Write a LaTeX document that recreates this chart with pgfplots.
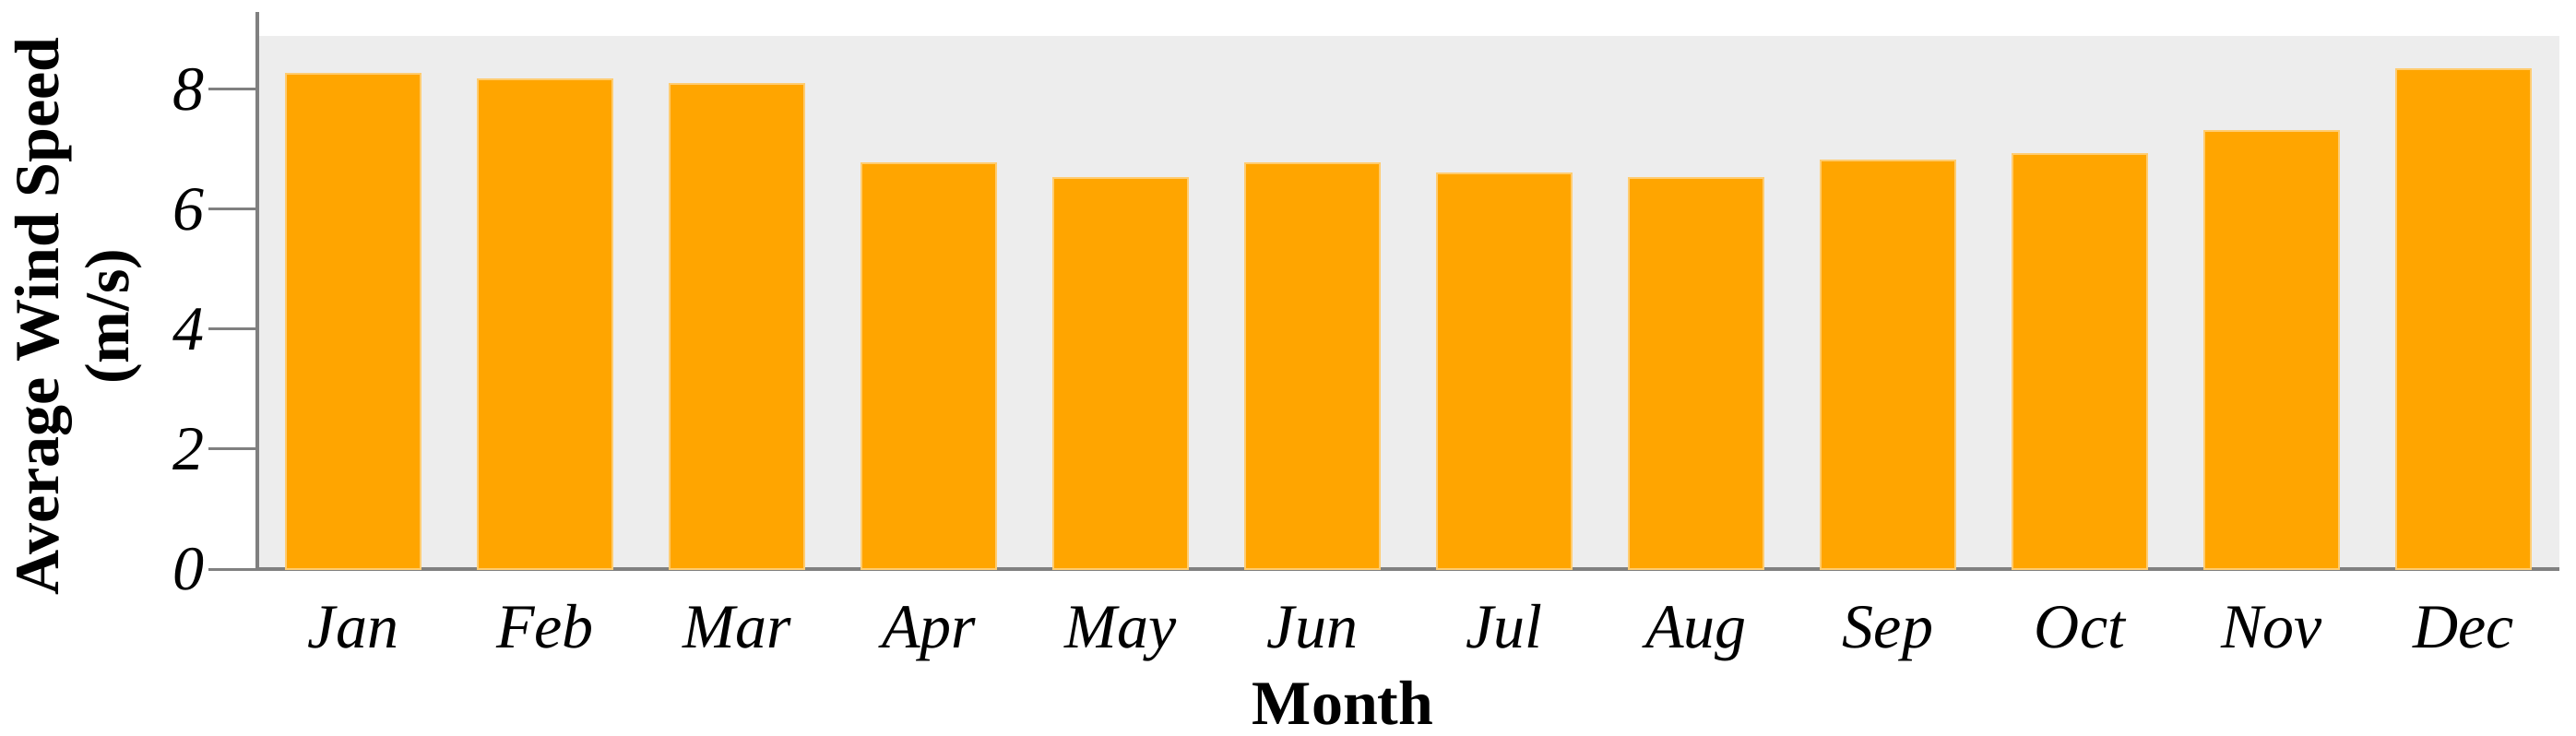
\documentclass[border=0pt]{standalone}
\usepackage{fontspec}
\setmainfont{Liberation Serif}
\usepackage{pgfplots}
\pgfplotsset{compat=1.18}
\definecolor{barorange}{HTML}{FFA500}
\definecolor{baredge}{HTML}{FFCC70}
\definecolor{bggray}{HTML}{EDEDED}
\definecolor{axgray}{HTML}{808080}
\begin{document}
\begin{tikzpicture}
\begin{axis}[
 at={(0,0)}, anchor=south west,
 width=624pt, height=144.5pt, scale only axis,
 xmin=-0.5, xmax=11.5, ymin=0, ymax=8.89,
 axis lines*=left,
 axis line style={axgray, line width=0.8pt},
 axis background/.style={fill=bggray},
 xtick={0,...,11},
 xticklabels={Jan,Feb,Mar,Apr,May,Jun,Jul,Aug,Sep,Oct,Nov,Dec},
 xtick style={draw=none},
 ytick={0,2,4,6,8},
 ytick style={axgray, line width=0.75pt},
 tick align=outside,
 major tick length=13.25pt,
 /pgf/number format/assume math mode=true,
 ticklabel style={font=\fontsize{17}{20}\selectfont\itshape},
 xticklabel style={anchor=base, yshift=-8pt},
 yticklabel style={anchor=east, xshift=2.5pt},
 xlabel={Month},
 xlabel style={font=\fontsize{17}{20}\selectfont\bfseries, at={(axis description cs:0.4716,0)}, anchor=base, yshift=-42pt},
 ylabel={Average Wind Speed\\(m/s)},
 ylabel style={font=\fontsize{17}{19}\selectfont\bfseries, align=center, at={(axis description cs:-0.0775,0.474)}, anchor=center},
 clip=false,
]
\addplot[ybar, bar width=36.5pt, fill=barorange, draw=baredge, line width=0.5pt]
 coordinates {(0,8.26) (1,8.17) (2,8.09) (3,6.77) (4,6.52) (5,6.77) (6,6.60) (7,6.52) (8,6.82) (9,6.92) (10,7.30) (11,8.33)};
\draw[axgray, line width=0.8pt] (rel axis cs:0,1) -- ++(0pt,6.5pt);
\end{axis}
\pgfresetboundingbox
\path[use as bounding box] (-69.75pt,-45pt) rectangle (628.5pt,154.25pt);
\end{tikzpicture}
\end{document}
